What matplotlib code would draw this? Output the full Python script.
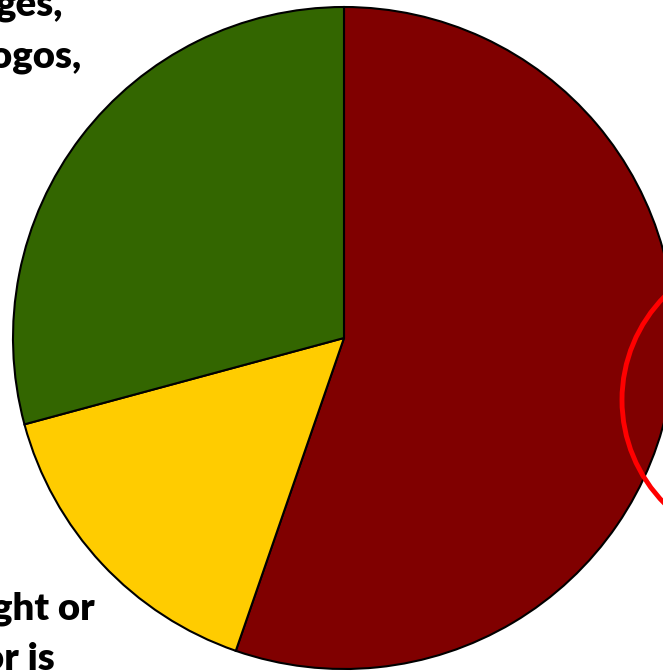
"""Cropped pie chart with partial labels and a red highlight circle."""
import matplotlib
matplotlib.use("Agg")
import matplotlib.pyplot as plt
from matplotlib.patches import Circle

# ── Data ──────────────────────────────────────────────────────────────
shares = [55.3, 15.5, 29.2]
slice_colors = ["#800000", "#FFCC00", "#336600"]
top_label_lines = ["ges,", "ogos,"]
bottom_label_lines = ["ght or", "or is"]

W, H = 663, 671

fig = plt.figure(figsize=(W / 100, H / 100), dpi=100)
ax = fig.add_axes([0, 0, 1, 1])

ax.pie(
    shares,
    colors=slice_colors,
    startangle=90,
    counterclock=False,
    center=(344, H - 338),
    radius=331,
    wedgeprops=dict(edgecolor="black", linewidth=1.5),
)
ax.set_xlim(0, W)
ax.set_ylim(0, H)
ax.set_aspect("auto")
ax.axis("off")

# red highlight ring, mostly outside the crop
ax.add_patch(Circle((769, H - 400), 147, fill=False, edgecolor="#FF0000",
                    linewidth=3.5, zorder=5))

font = dict(family=["Lato", "DejaVu Sans"], fontweight="heavy", fontsize=27.5,
            color="black", ha="right", va="baseline")
ax.text(63, H - 15, top_label_lines[0], **font)
ax.text(81, H - 68, top_label_lines[1], **font)
ax.text(95, H - 620, bottom_label_lines[0], **font)
ax.text(55, H - 670, bottom_label_lines[1], **font)

fig.savefig("out.png", dpi=100)
